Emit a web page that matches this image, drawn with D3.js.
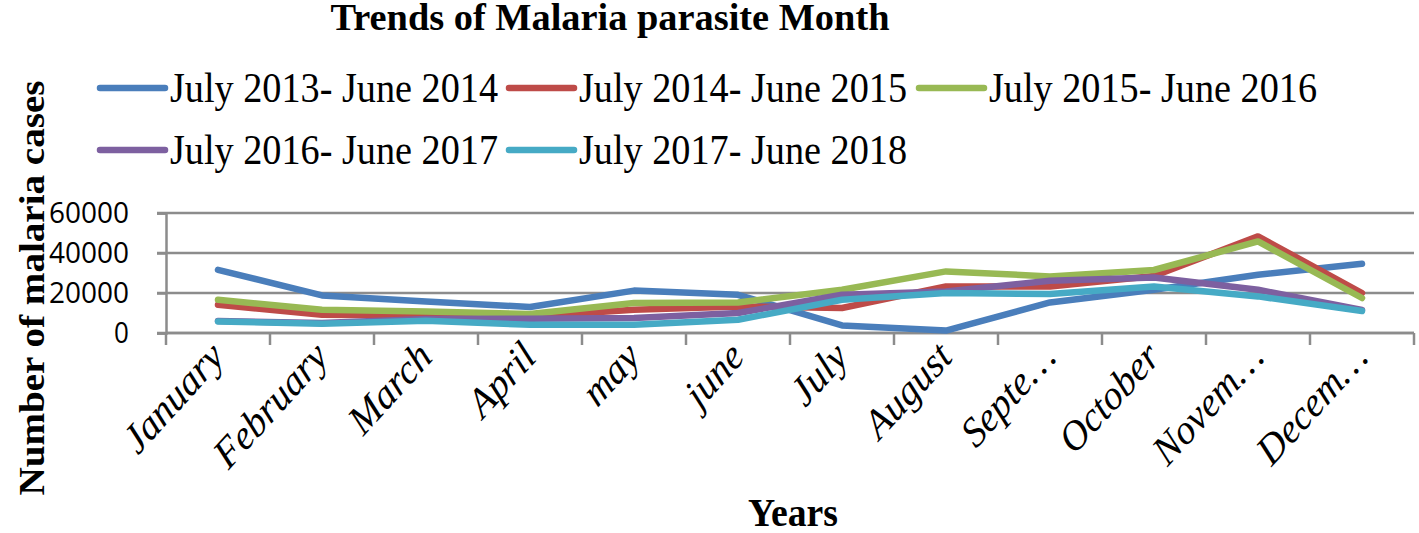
<!DOCTYPE html>
<html>
<head>
<meta charset="utf-8">
<script src="https://cdn.jsdelivr.net/npm/d3@7"></script>
<style>
  body { margin: 0; background: #fff; }
  svg { display: block; }
</style>
</head>
<body>
<div id="chart"></div>
<script>
// months on the x axis (labels as shown, Excel truncated the long ones)
const months = ["January", "February", "March", "April", "may", "june", "July",
  "August", "Septe\u2026", "October", "Novem\u2026", "Decem\u2026"];

const seriesNames = ["July 2013- June 2014", "July 2014- June 2015", "July 2015- June 2016",
  "July 2016- June 2017", "July 2017- June 2018"];

// malaria cases per month
const y2013 = [31600, 18800, 15800, 13000, 21200, 19100, 3800, 1200, 15300, 21600, 29100, 34600];
const y2014 = [14100, 9100, 8700, 8300, 11600, 13300, 12500, 23300, 23300, 28500, 48300, 20000];
const y2015 = [16600, 11600, 10800, 9500, 15000, 15300, 21600, 30800, 28300, 31500, 45800, 17500];
const y2016 = [6000, 5000, 7000, 7100, 7500, 10000, 19100, 20800, 26100, 27800, 21600, 11500];
const y2017 = [5800, 4600, 6100, 4100, 4100, 6600, 16600, 20000, 19500, 23300, 18300, 11000];

const yTicks = [0, 20000, 40000, 60000];

const colors = ["#4a7ebb", "#be4b48", "#98b954", "#7d60a0", "#46aac5"];
const allSeries = [y2013, y2014, y2015, y2016, y2017];

// the picture is a bit taller than the original chart, text looks stretched
const sy = 1.15;

const width = 1419, height = 533;

const svg = d3.select("#chart").append("svg")
  .attr("width", width)
  .attr("height", height);

const x = d3.scaleBand()
  .domain(months)
  .range([166, 1414]);

const y = d3.scaleLinear()
  .domain([0, 60000])
  .range([333, 213]);

// gridlines
svg.append("g")
  .selectAll("line")
  .data(yTicks)
  .enter()
  .append("line")
  .attr("x1", 157)
  .attr("x2", 1414)
  .attr("y1", d => y(d))
  .attr("y2", d => y(d))
  .attr("stroke", "#8c8c8c")
  .attr("stroke-width", 2.5);

// y axis
const yAxis = svg.append("g")
  .attr("transform", "translate(166,0)")
  .call(d3.axisLeft(y).tickValues(yTicks).tickSize(9).tickPadding(28).tickFormat(d3.format("d")));
yAxis.select(".domain").attr("stroke", "#8c8c8c").attr("stroke-width", 2.5);
yAxis.selectAll(".tick line").attr("stroke", "#8c8c8c").attr("stroke-width", 2.5);
yAxis.selectAll("text")
  .attr("transform", "scale(1,1.1)")
  .attr("font-family", "'Open Sans', sans-serif")
  .attr("font-size", 26)
  .attr("textLength", d => d === 0 ? null : 80)
  .attr("lengthAdjust", "spacingAndGlyphs")
  .attr("fill", "#000");

// x axis
const xAxis = svg.append("g")
  .attr("transform", "translate(0,333)");
xAxis.append("line")
  .attr("x1", 166).attr("x2", 1414)
  .attr("stroke", "#8c8c8c").attr("stroke-width", 2.5);
xAxis.selectAll(".tk")
  .data(months.concat(["end"]))
  .enter()
  .append("line")
  .attr("class", "tk")
  .attr("x1", (d, i) => i < months.length ? x(d) : x.range()[1])
  .attr("x2", (d, i) => i < months.length ? x(d) : x.range()[1])
  .attr("y1", 0).attr("y2", 12)
  .attr("stroke", "#8c8c8c").attr("stroke-width", 2.5);
xAxis.selectAll(".lbl")
  .data(months)
  .enter()
  .append("text")
  .attr("class", "lbl")
  .attr("transform", d => "translate(" + (x(d) + x.bandwidth() / 2 + 8) + ",26) scale(1,1.1) rotate(-45)")
  .attr("text-anchor", "end")
  .attr("font-family", "'Liberation Serif', serif")
  .attr("font-style", "italic")
  .attr("font-size", 38)
  .text(d => d);

// lines
const line = d3.line()
  .x((d, i) => x(months[i]) + x.bandwidth() / 2)
  .y(d => y(d));

svg.append("g")
  .selectAll("path")
  .data(allSeries)
  .enter()
  .append("path")
  .attr("d", d => line(d))
  .attr("fill", "none")
  .attr("stroke", (d, i) => colors[i])
  .attr("stroke-width", 6.5)
  .attr("stroke-linecap", "round")
  .attr("stroke-linejoin", "round");

// legend
const legendPos = [[100, 88], [509, 88], [919, 88], [100, 150], [509, 150]];
const leg = svg.append("g")
  .selectAll("g")
  .data(seriesNames)
  .enter()
  .append("g")
  .attr("transform", (d, i) => "translate(" + legendPos[i][0] + "," + legendPos[i][1] + ")");
leg.append("line")
  .attr("x1", 0).attr("x2", 65)
  .attr("stroke", (d, i) => colors[i])
  .attr("stroke-width", 6.5)
  .attr("stroke-linecap", "round");
leg.append("text")
  .attr("transform", "translate(70,14) scale(1," + sy + ")")
  .attr("font-family", "'Liberation Serif', serif")
  .attr("font-size", 37)
  .attr("textLength", 328)
  .attr("lengthAdjust", "spacingAndGlyphs")
  .text(d => d);

// title
svg.append("text")
  .attr("transform", "translate(610,30) scale(1," + sy + ")")
  .attr("text-anchor", "middle")
  .attr("font-family", "'Liberation Serif', serif")
  .attr("font-weight", "bold")
  .attr("font-size", 33)
  .attr("textLength", 559)
  .attr("lengthAdjust", "spacingAndGlyphs")
  .text("Trends of Malaria parasite Month");

// axis titles
svg.append("text")
  .attr("transform", "translate(793,526) scale(1," + sy + ")")
  .attr("text-anchor", "middle")
  .attr("font-family", "'Liberation Serif', serif")
  .attr("font-weight", "bold")
  .attr("font-size", 35)
  .attr("textLength", 90)
  .attr("lengthAdjust", "spacingAndGlyphs")
  .text("Years");

svg.append("text")
  .attr("transform", "translate(44,288) rotate(-90)")
  .attr("text-anchor", "middle")
  .attr("font-family", "'Liberation Serif', serif")
  .attr("font-weight", "bold")
  .attr("font-size", 36)
  .attr("textLength", 415)
  .attr("lengthAdjust", "spacingAndGlyphs")
  .text("Number of malaria cases");
</script>
</body>
</html>
